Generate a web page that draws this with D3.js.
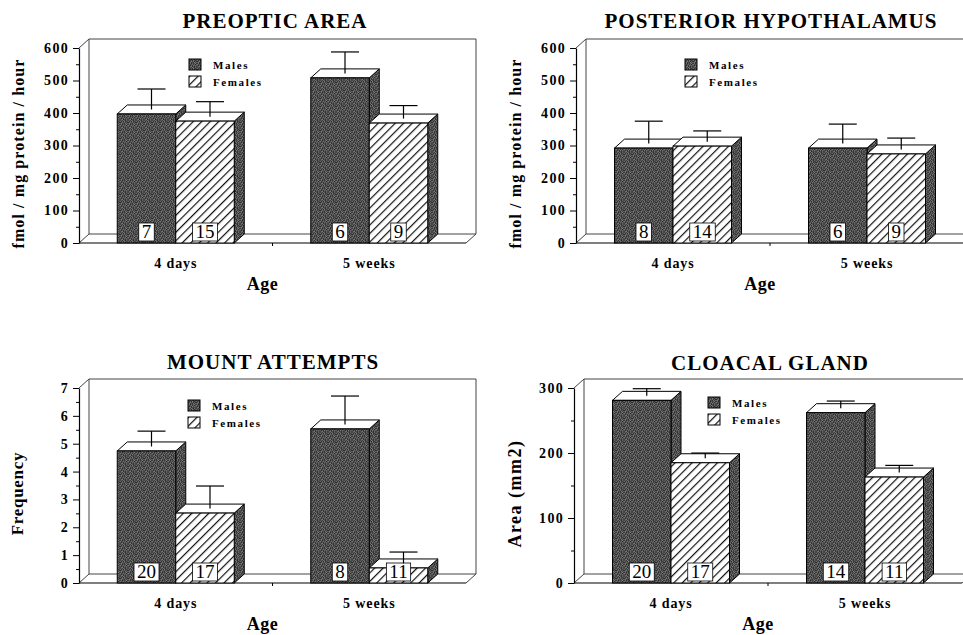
<!DOCTYPE html>
<html>
<head>
<meta charset="utf-8">
<script src="https://cdn.jsdelivr.net/npm/d3@7"></script>
<style>
  html, body { margin: 0; padding: 0; background: #fff; }
  svg { display: block; font-family: "Liberation Serif", "DejaVu Serif", serif; }
</style>
</head>
<body>
<script>
// values
const titles = ["PREOPTIC AREA", "POSTERIOR HYPOTHALAMUS", "MOUNT ATTEMPTS", "CLOACAL GLAND"]
const yLabels = ["fmol / mg protein / hour", "fmol / mg protein / hour", "Frequency", "Area (mm2)"]
const categories = ["4 days", "5 weeks"]
const groups = ["Males", "Females"]
const yMaxes = [600, 600, 7, 300]
const yTicks = [
  [0, 100, 200, 300, 400, 500, 600],
  [0, 100, 200, 300, 400, 500, 600],
  [0, 1, 2, 3, 4, 5, 6, 7],
  [0, 100, 200, 300]
]
const maleMeans = [[397, 508], [292, 292], [4.74, 5.53], [281, 262]]
const femaleMeans = [[375, 369], [298, 274], [2.51, 0.54], [185, 163]]
const maleSem = [[63, 66], [69, 60], [0.55, 1.02], [11, 11]]
const femaleSem = [[46, 40], [33, 35], [0.81, 0.41], [8, 11]]
const maleN = [[7, 6], [8, 6], [20, 8], [20, 14]]
const femaleN = [[15, 9], [14, 9], [17, 11], [17, 11]]

// layout of each panel (front axis box)
const layouts = [
  { ax: 79, aw: 387, yTop: 48, y0: 243, titleX: 275, titleY: 28, legX: 189, legY: 59, yLabX: 24, yLabSize: 16, yLabLs: 1.1 },
  { ax: 576, aw: 388, yTop: 48, y0: 243, titleX: 771, titleY: 28, legX: 685, legY: 59, yLabX: 521, yLabSize: 16, yLabLs: 1.1 },
  { ax: 79, aw: 387, yTop: 388, y0: 583, titleX: 273, titleY: 369, legX: 188, legY: 400, yLabX: 23, yLabSize: 17, yLabLs: 0.7 },
  { ax: 574, aw: 388, yTop: 388, y0: 583, titleX: 770, titleY: 370, legX: 708, legY: 397, yLabX: 521, yLabSize: 18, yLabLs: 1.5 }
]
const DX = 10, DY = -9
const BAR_W = 58.5

const svg = d3.select("body").append("svg").attr("width", 963).attr("height", 635)
const defs = svg.append("defs")

// dark stipple, fixed 8x8 grey tile
const tile = [
  "35274163",
  "62517324",
  "14736251",
  "57241736",
  "26153472",
  "73462615",
  "41527364",
  "36714253"
]
const greys = ["#202020", "#2c2c2c", "#383838", "#444", "#505050", "#5c5c5c", "#686868", "#787878"]
const stip = defs.append("pattern").attr("id", "stipple")
  .attr("patternUnits", "userSpaceOnUse").attr("width", 8).attr("height", 8)
tile.forEach((row, j) => row.split("").forEach((c, i) => {
  stip.append("rect").attr("x", i).attr("y", j).attr("width", 1).attr("height", 1)
    .attr("fill", greys[+c])
}))

// diagonal hatch
const hatch = defs.append("pattern").attr("id", "hatch")
  .attr("patternUnits", "userSpaceOnUse").attr("width", 6).attr("height", 6)
  .attr("patternTransform", "rotate(45)")
hatch.append("rect").attr("width", 6).attr("height", 6).attr("fill", "#fff")
hatch.append("line").attr("x1", 0).attr("y1", 0).attr("x2", 0).attr("y2", 6)
  .attr("stroke", "#111").attr("stroke-width", 2.4)

const fills = { Males: "url(#stipple)", Females: "url(#hatch)" }

layouts.forEach((L, p) => {
  const g = svg.append("g")

  const y = d3.scaleLinear().domain([0, yMaxes[p]]).range([L.y0, L.yTop])
  const x = d3.scaleBand().domain(categories).range([L.ax, L.ax + L.aw])

  // back wall and floor
  const wall = g.append("g").attr("fill", "none").attr("stroke", "#444").attr("stroke-width", 1)
  wall.append("path").attr("d",
    `M${L.ax + DX},${L.y0 + DY}V${L.yTop + DY}H${L.ax + L.aw + DX}V${L.y0 + DY}`)
  wall.append("path").attr("d",
    `M${L.ax},${L.yTop}L${L.ax + DX},${L.yTop + DY}`)
  wall.append("path").attr("d",
    `M${L.ax},${L.y0}L${L.ax + DX},${L.y0 + DY}H${L.ax + L.aw + DX}L${L.ax + L.aw},${L.y0}`)
  g.append("line").attr("x1", L.ax).attr("x2", L.ax + L.aw).attr("y1", L.y0).attr("y2", L.y0)
    .attr("stroke", "#000").attr("stroke-width", 1.2)
  // tick between categories
  g.append("line").attr("x1", L.ax + L.aw / 2).attr("x2", L.ax + L.aw / 2)
    .attr("y1", L.y0).attr("y2", L.y0 + 3).attr("stroke", "#000")

  // y axis
  const step = yTicks[p][1] - yTicks[p][0]
  const minor = yTicks[p].slice(1).map(v => v - step / 2)
  g.append("g").attr("transform", `translate(${L.ax},0)`)
    .call(d3.axisLeft(y).tickValues(minor).tickSize(3).tickFormat(""))
    .call(a => a.select(".domain").remove())
  const yAxis = g.append("g").attr("transform", `translate(${L.ax},0)`)
    .call(d3.axisLeft(y).tickValues(yTicks[p]).tickSize(6).tickSizeOuter(0).tickPadding(4)
      .tickFormat(d3.format("d")))
  yAxis.select(".domain").attr("stroke-width", 1.2)
  yAxis.selectAll("text").attr("font-family", "Liberation Serif").attr("font-weight", "bold")
    .attr("font-size", 14).attr("letter-spacing", 1.3).attr("fill", "#000")

  // x labels
  g.selectAll(".xl").data(categories).join("text")
    .attr("x", d => x(d) + x.bandwidth() / 2).attr("y", L.y0 + 25)
    .attr("text-anchor", "middle").attr("font-weight", "bold").attr("font-size", 14)
    .attr("letter-spacing", 0.9).text(d => d)
  g.append("text").attr("x", L.ax + L.aw / 2 - 10).attr("y", L.y0 + 47)
    .attr("text-anchor", "middle").attr("font-weight", "bold").attr("font-size", 18)
    .attr("letter-spacing", 0.5).text("Age")

  // title
  g.append("text").attr("x", L.titleX).attr("y", L.titleY).attr("text-anchor", "middle")
    .attr("font-weight", "bold").attr("font-size", 21).attr("letter-spacing", 1).text(titles[p])

  // y label
  g.append("text")
    .attr("transform", `translate(${L.yLabX},${(L.yTop + L.y0) / 2 + 8}) rotate(-90)`)
    .attr("text-anchor", "middle").attr("font-weight", "bold").attr("font-size", L.yLabSize)
    .attr("letter-spacing", L.yLabLs).text(yLabels[p])

  // bars
  const rows = []
  categories.forEach((c, i) => {
    rows.push({ cat: c, grp: "Males", v: maleMeans[p][i], e: maleSem[p][i], n: maleN[p][i] })
    rows.push({ cat: c, grp: "Females", v: femaleMeans[p][i], e: femaleSem[p][i], n: femaleN[p][i] })
  })
  const sub = d => x(d.cat) + x.bandwidth() / 2 + (d.grp === "Males" ? -BAR_W : 0)

  const bars = g.selectAll(".bar").data(rows).join("g").attr("class", "bar")
  bars.append("path")   // side
    .attr("d", d => {
      const x1 = sub(d) + BAR_W, yv = y(d.v)
      return `M${x1},${yv}L${x1 + DX},${yv + DY}V${L.y0 + DY}L${x1},${L.y0}Z`
    })
    .attr("fill", "url(#stipple)").attr("stroke", "#000").attr("stroke-width", 1)
  bars.append("path")   // top
    .attr("d", d => {
      const x0 = sub(d), yv = y(d.v)
      return `M${x0},${yv}L${x0 + DX},${yv + DY}H${x0 + BAR_W + DX}L${x0 + BAR_W},${yv}Z`
    })
    .attr("fill", "#fff").attr("stroke", "#000").attr("stroke-width", 1)
  bars.append("rect")   // front
    .attr("x", d => sub(d)).attr("y", d => y(d.v))
    .attr("width", BAR_W).attr("height", d => L.y0 - y(d.v))
    .attr("fill", d => fills[d.grp]).attr("stroke", "#000").attr("stroke-width", 1)

  // n labels
  bars.each(function (d) {
    const gg = d3.select(this)
    const cx = sub(d) + BAR_W / 2
    const t = gg.append("text").attr("x", cx).attr("y", L.y0 - 5)
      .attr("text-anchor", "middle").attr("font-size", 19).text(d.n)
    const bb = t.node().getBBox()
    gg.insert("rect", "text").attr("x", bb.x - 3).attr("y", L.y0 - 20)
      .attr("width", bb.width + 6).attr("height", 18)
      .attr("fill", "#fff").attr("stroke", "#000").attr("stroke-width", 0.8)
  })

  // error bars
  const eb = g.selectAll(".err").data(rows).join("g").attr("class", "err")
    .attr("stroke", "#000").attr("stroke-width", 1.2)
  eb.append("line")
    .attr("x1", d => sub(d) + BAR_W / 2 + DX / 2).attr("x2", d => sub(d) + BAR_W / 2 + DX / 2)
    .attr("y1", d => y(d.v) + DY / 2).attr("y2", d => y(d.v + d.e) + DY / 2)
  eb.append("line")
    .attr("x1", d => sub(d) + BAR_W / 2 + DX / 2 - 14).attr("x2", d => sub(d) + BAR_W / 2 + DX / 2 + 14)
    .attr("y1", d => y(d.v + d.e) + DY / 2).attr("y2", d => y(d.v + d.e) + DY / 2)

  // legend
  const leg = g.append("g").attr("transform", `translate(${L.legX},${L.legY})`)
  groups.forEach((k, i) => {
    leg.append("rect").attr("x", 0).attr("y", i * 17).attr("width", 12).attr("height", 11)
      .attr("fill", fills[k]).attr("stroke", "#000").attr("stroke-width", 1)
    leg.append("text").attr("x", 24).attr("y", i * 17 + 10).attr("font-weight", "bold")
      .attr("font-size", 11).attr("letter-spacing", 1.6).text(k)
  })
})
</script>
</body>
</html>
